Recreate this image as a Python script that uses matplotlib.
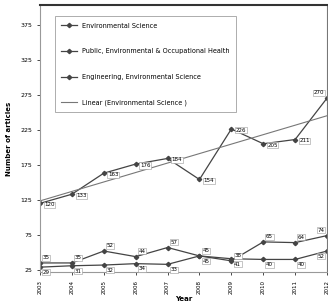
import numpy as np
import matplotlib
matplotlib.use("Agg")
import matplotlib.pyplot as plt

# data
years = [2003, 2004, 2005, 2006, 2007, 2008, 2009, 2010, 2011, 2012]
env_science = [120, 133, 163, 176, 184, 154, 226, 205, 211, 270]
public_health = [35, 35, 52, 44, 57, 45, 38, 65, 64, 74]
engineering = [29, 31, 32, 34, 33, 45, 41, 40, 40, 52]
y_ticks = [25, 75, 125, 175, 225, 275, 325, 375]

plt.rcParams['font.family'] = ['DejaVu Sans']

fig = plt.figure(figsize=(3.28, 3.05), dpi=100)
ax = fig.add_axes([0.122, 0.108, 0.875, 0.876])

line_col = '#444444'
ax.plot(years, env_science, marker='D', markersize=2.2, linewidth=0.9, color=line_col,
        label='Environmental Science')
ax.plot(years, public_health, marker='D', markersize=2.2, linewidth=0.9, color=line_col,
        label='Public, Environmental & Occupational Health')
ax.plot(years, engineering, marker='D', markersize=2.2, linewidth=0.9, color=line_col,
        label='Engineering, Environmental Science')

# linear trend of Environmental Science
coef = np.polyfit(years, env_science, 1)
ax.plot(years, np.polyval(coef, years), color='#777777', linewidth=0.8,
        label='Linear (Environmental Science )')

box = dict(boxstyle='square,pad=0.1', fc='white', ec='#999999', lw=0.4)
last = len(years) - 1
for i, yr in enumerate(years):
    if i == last:
        ax.annotate(str(env_science[i]), (yr, env_science[i]), textcoords='offset points',
                    xytext=(-2, 2), ha='right', va='bottom', fontsize=4, bbox=box)
        ax.annotate(str(public_health[i]), (yr, public_health[i]), textcoords='offset points',
                    xytext=(-2, 2), ha='right', va='bottom', fontsize=4, bbox=box)
        ax.annotate(str(engineering[i]), (yr, engineering[i]), textcoords='offset points',
                    xytext=(-2, -2), ha='right', va='top', fontsize=4, bbox=box)
        continue
    ax.annotate(str(env_science[i]), (yr, env_science[i]), textcoords='offset points',
                xytext=(3, -1), ha='left', va='center', fontsize=4, bbox=box)
    ax.annotate(str(public_health[i]), (yr, public_health[i]), textcoords='offset points',
                xytext=(2, 2), ha='left', va='bottom', fontsize=4, bbox=box)
    ax.annotate(str(engineering[i]), (yr, engineering[i]), textcoords='offset points',
                xytext=(2, -2), ha='left', va='top', fontsize=4, bbox=box)

ax.set_xlim(2003, 2012)
ax.set_ylim(22, 403)
ax.set_yticks(y_ticks)
ax.set_xticks(years)
ax.set_xticklabels([str(y) for y in years], rotation=90, fontsize=4)
ax.tick_params(axis='y', labelsize=4.5, length=2, width=0.5)
ax.tick_params(axis='x', length=2, width=0.5)
ax.set_xlabel('Year', fontsize=5, fontweight='bold', labelpad=2)
ax.set_ylabel('Number of articles', fontsize=5, fontweight='bold', labelpad=6)

for side in ['left', 'bottom']:
    ax.spines[side].set_color('#999999')
    ax.spines[side].set_linewidth(0.8)
ax.spines['top'].set_linewidth(1.5)
ax.spines['top'].set_color('#333333')
ax.spines['right'].set_linewidth(0.8)
ax.spines['right'].set_color('#777777')

leg = ax.legend(loc='upper left', bbox_to_anchor=(0.04, 0.97), fontsize=4.7,
                labelspacing=3.0, handlelength=2.4, frameon=True, fancybox=False,
                borderpad=1.0)
leg.get_frame().set_edgecolor('#888888')
leg.get_frame().set_linewidth(0.6)

fig.savefig('out.png', dpi=100)
